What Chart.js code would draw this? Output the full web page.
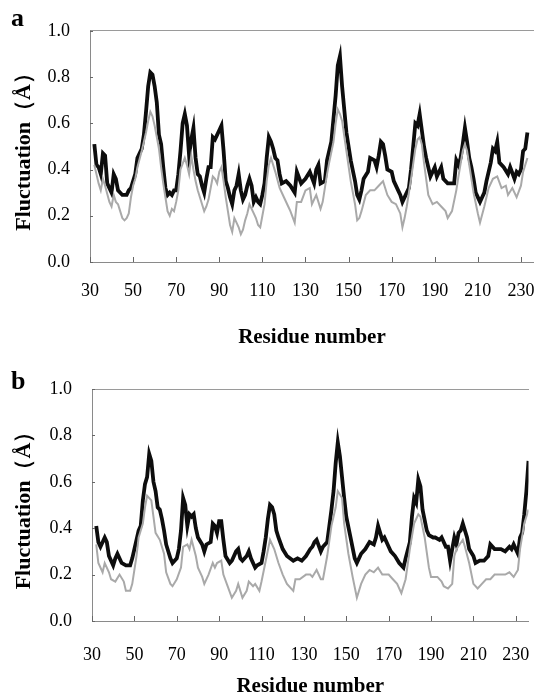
<!DOCTYPE html>
<html>
<head>
<meta charset="utf-8">
<script src="https://cdn.jsdelivr.net/npm/chart.js@4/dist/chart.umd.min.js"></script>
<style>
  body { margin: 0; background: #fff; }
  .panel { position: relative; width: 553px; }
  .panel canvas { display: block; }
  .letter { position: absolute; left: 11px; font: bold 26px "Liberation Serif", "Times New Roman", serif; color: #000; }
</style>
</head>
<body>
<div class="panel">
  <canvas id="chartA" width="553" height="350"></canvas>
  <div class="letter" style="top:3px">a</div>
</div>
<div class="panel">
  <canvas id="chartB" width="553" height="349"></canvas>
  <div class="letter" style="top:16px">b</div>
</div>
<script>
const xTicks = [30, 50, 70, 90, 110, 130, 150, 170, 190, 210, 230];

// panel a, dark line
const resABlack = [32,33,34,35,36,37,38,40,41,42,43,45,47,48,49,51,52,54,55,56,57,58,59,60,61,62,63,64,65,66,67,68,69,70,71,72,73,74,75,76,77,78,79,80,81,82,83,84,85,86,87,88,89,90,91,92,93,94,95,96,97,98,99,100,101,102,103,104,105,106,107,108,109,110,111,112,113,114,115,116,117,118,119,121,122,123,125,126,128,130,132,134,135,136,137,139,140,142,143,144,145,146,147,148,149,151,153,154,155,156,157,159,160,162,163,164,165,166,167,168,170,171,173,174,175,177,178,179,180,181,182,183,184,185,186,187,188,190,191,193,194,196,198,199,200,201,202,203,204,205,206,207,208,209,211,212,213,214,216,217,218,219,220,222,224,225,227,228,229,230,231,232,233];
const flucABlack = [0.51,0.42,0.41,0.38,0.47,0.46,0.34,0.30,0.38,0.36,0.31,0.29,0.29,0.31,0.32,0.38,0.45,0.49,0.55,0.65,0.76,0.82,0.81,0.76,0.69,0.55,0.51,0.41,0.32,0.29,0.30,0.29,0.31,0.31,0.38,0.48,0.60,0.64,0.59,0.46,0.53,0.58,0.45,0.38,0.37,0.33,0.30,0.36,0.41,0.41,0.54,0.53,0.55,0.57,0.59,0.48,0.35,0.32,0.28,0.25,0.31,0.33,0.38,0.31,0.27,0.29,0.33,0.36,0.33,0.26,0.28,0.26,0.25,0.29,0.34,0.45,0.54,0.52,0.49,0.45,0.44,0.38,0.34,0.35,0.34,0.33,0.30,0.39,0.34,0.36,0.39,0.34,0.40,0.42,0.34,0.35,0.44,0.52,0.62,0.72,0.85,0.89,0.76,0.66,0.56,0.44,0.35,0.29,0.27,0.31,0.36,0.39,0.45,0.44,0.41,0.46,0.52,0.51,0.46,0.40,0.39,0.35,0.31,0.29,0.26,0.30,0.32,0.40,0.50,0.60,0.59,0.64,0.57,0.50,0.45,0.41,0.37,0.41,0.37,0.41,0.36,0.34,0.34,0.34,0.44,0.42,0.45,0.51,0.58,0.52,0.45,0.41,0.36,0.30,0.26,0.28,0.30,0.35,0.43,0.49,0.48,0.52,0.43,0.41,0.38,0.41,0.36,0.39,0.38,0.40,0.48,0.49,0.56];

// panel a, grey line
const resAGrey = [32,34,35,36,37,39,40,41,42,43,44,45,46,47,48,49,50,51,52,54,56,57,58,59,60,61,62,63,64,65,66,67,68,69,70,71,72,74,75,76,77,78,79,80,81,82,83,84,85,86,87,88,89,90,91,92,93,94,95,96,97,98,99,100,101,102,103,104,105,106,107,108,109,110,111,112,113,114,116,118,120,122,123,125,126,128,130,132,133,135,137,138,140,141,143,144,145,146,147,149,151,153,154,155,156,158,160,162,164,166,168,170,172,174,175,176,177,179,181,182,183,184,185,186,187,189,191,193,195,196,198,200,201,203,204,205,206,208,210,211,213,215,217,219,221,223,224,226,228,230,231,233];
const flucAGrey = [0.42,0.34,0.31,0.36,0.33,0.26,0.24,0.29,0.26,0.25,0.22,0.19,0.18,0.19,0.21,0.28,0.33,0.36,0.41,0.48,0.56,0.61,0.65,0.63,0.59,0.54,0.49,0.41,0.34,0.28,0.22,0.20,0.23,0.22,0.26,0.31,0.40,0.45,0.42,0.38,0.46,0.40,0.35,0.31,0.28,0.25,0.22,0.24,0.27,0.32,0.37,0.36,0.34,0.39,0.41,0.35,0.28,0.22,0.16,0.13,0.19,0.17,0.15,0.12,0.14,0.18,0.21,0.25,0.23,0.21,0.19,0.16,0.15,0.20,0.25,0.35,0.42,0.45,0.39,0.32,0.28,0.24,0.22,0.17,0.26,0.26,0.31,0.32,0.25,0.29,0.23,0.26,0.38,0.43,0.52,0.60,0.66,0.64,0.61,0.48,0.35,0.25,0.18,0.19,0.22,0.29,0.31,0.31,0.33,0.35,0.29,0.26,0.25,0.21,0.15,0.19,0.24,0.36,0.49,0.53,0.54,0.51,0.43,0.36,0.29,0.25,0.26,0.24,0.22,0.19,0.22,0.31,0.37,0.48,0.51,0.48,0.42,0.30,0.21,0.17,0.24,0.32,0.36,0.37,0.32,0.33,0.29,0.32,0.28,0.33,0.39,0.45];

// panel b, dark line
const resBBlack = [32,33,34,36,37,38,40,41,42,44,46,48,49,50,52,53,54,55,56,57,58,59,60,61,62,63,64,65,67,68,70,71,72,73,74,75,76,77,78,79,80,82,83,84,86,87,88,89,90,91,92,93,95,96,98,99,100,101,103,104,105,107,108,110,111,112,113,114,115,116,117,118,120,122,125,127,129,131,133,134,135,136,138,139,141,142,143,144,145,146,147,148,149,150,152,154,155,157,159,161,163,164,165,167,168,170,171,173,175,177,178,180,181,182,183,184,185,186,188,189,191,192,194,195,197,198,199,201,202,203,204,205,207,208,210,211,213,215,217,218,220,222,223,225,227,228,229,231,232,233,234,235,236];
const flucBBlack = [0.41,0.34,0.32,0.36,0.34,0.28,0.24,0.27,0.29,0.25,0.24,0.24,0.27,0.31,0.39,0.41,0.52,0.59,0.62,0.72,0.69,0.60,0.56,0.49,0.48,0.44,0.39,0.33,0.27,0.25,0.27,0.31,0.39,0.53,0.50,0.41,0.46,0.45,0.46,0.40,0.36,0.33,0.30,0.33,0.34,0.42,0.41,0.38,0.43,0.43,0.35,0.28,0.25,0.26,0.30,0.31,0.27,0.26,0.28,0.30,0.27,0.23,0.24,0.25,0.30,0.36,0.44,0.50,0.49,0.46,0.39,0.36,0.31,0.28,0.26,0.27,0.26,0.28,0.31,0.32,0.34,0.35,0.30,0.32,0.34,0.41,0.48,0.56,0.68,0.77,0.71,0.62,0.53,0.45,0.36,0.27,0.25,0.29,0.31,0.34,0.33,0.36,0.41,0.35,0.36,0.32,0.30,0.28,0.25,0.23,0.27,0.34,0.45,0.53,0.51,0.61,0.58,0.48,0.39,0.37,0.36,0.36,0.35,0.36,0.32,0.32,0.26,0.36,0.33,0.38,0.39,0.42,0.36,0.31,0.28,0.25,0.26,0.26,0.28,0.33,0.31,0.31,0.31,0.30,0.32,0.31,0.33,0.29,0.36,0.38,0.46,0.56,0.69];

// panel b, grey line
const resBGrey = [32,33,35,36,38,39,41,43,45,46,48,49,51,52,54,55,56,58,59,60,62,64,65,67,68,70,72,73,75,76,77,79,80,82,83,85,87,88,89,91,92,94,96,98,99,101,103,104,106,107,109,110,112,114,116,118,120,122,125,126,128,131,133,134,136,138,139,141,143,145,146,148,149,151,153,155,157,159,161,163,165,167,170,172,174,176,178,180,182,184,185,187,189,190,193,195,196,198,200,201,202,205,206,208,210,212,214,216,218,220,223,225,227,229,231,232,234,236];
const flucBGrey = [0.33,0.25,0.21,0.25,0.21,0.18,0.17,0.20,0.17,0.13,0.13,0.16,0.28,0.36,0.42,0.49,0.54,0.52,0.45,0.38,0.35,0.29,0.21,0.16,0.15,0.18,0.23,0.32,0.33,0.31,0.35,0.28,0.23,0.19,0.16,0.20,0.25,0.23,0.25,0.26,0.20,0.15,0.10,0.13,0.16,0.10,0.13,0.17,0.15,0.16,0.13,0.17,0.26,0.35,0.31,0.25,0.20,0.16,0.13,0.18,0.18,0.20,0.20,0.19,0.22,0.18,0.18,0.28,0.41,0.49,0.56,0.53,0.42,0.29,0.19,0.10,0.16,0.20,0.22,0.21,0.23,0.20,0.20,0.18,0.16,0.12,0.18,0.31,0.42,0.46,0.45,0.36,0.23,0.19,0.19,0.17,0.15,0.14,0.16,0.28,0.31,0.35,0.32,0.25,0.16,0.14,0.16,0.18,0.18,0.20,0.20,0.20,0.21,0.19,0.22,0.31,0.42,0.48];

const serif = '"Liberation Serif", "Times New Roman", serif';

function toPoints(xs, ys){
    return xs.map((x, i) => ({x: x, y: ys[i]}));
}

// small tick marks pointing into the plot
const innerTicks = {
    id: "innerTicks",
    afterDraw(chart){
        const ctx = chart.ctx;
        const area = chart.chartArea;
        ctx.save();
        ctx.strokeStyle = "#666";
        ctx.lineWidth = 1;
        chart.scales.x.ticks.forEach(t => {
            const px = Math.round(chart.scales.x.getPixelForValue(t.value)) + 0.5;
            ctx.beginPath();
            ctx.moveTo(px, area.bottom);
            ctx.lineTo(px, area.bottom - 5);
            ctx.stroke();
        });
        chart.scales.y.ticks.forEach(t => {
            const py = Math.round(chart.scales.y.getPixelForValue(t.value)) + 0.5;
            ctx.beginPath();
            ctx.moveTo(area.left, py);
            ctx.lineTo(area.left + 3, py);
            ctx.stroke();
        });
        ctx.restore();
    }
};

function makePanel(id, black, grey, box){
    const ctx = document.getElementById(id);

    new Chart(ctx, {
        type: "line",
        data: {
            datasets: [
                {
                    label: "grey",
                    data: grey,
                    borderColor: "#a9a9a9",
                    borderWidth: 2,
                    pointRadius: 0,
                    tension: 0
                },
                {
                    label: "black",
                    data: black,
                    borderColor: "#0d0d0d",
                    borderWidth: 3.8,
                    pointRadius: 0,
                    tension: 0
                }
            ]
        },
        options: {
            responsive: false,
            animation: false,
            events: [],
            layout: { padding: { top: box.top, left: 0, right: 0, bottom: 0 } },
            plugins: {
                legend: { display: false },
                tooltip: { enabled: false }
            },
            scales: {
                x: {
                    type: "linear",
                    position: "bottom",
                    min: 30,
                    max: 236,
                    afterBuildTicks: scale => { scale.ticks = xTicks.map(v => ({value: v})); },
                    afterFit: scale => { scale.height = box.xHeight; },
                    ticks: {
                        color: "#000",
                        padding: box.xPad,
                        maxRotation: 0,
                        autoSkip: false,
                        font: { family: serif, size: 18 }
                    },
                    grid: { display: false, drawTicks: false },
                    border: { display: true, color: "#8a8a8a", width: 1, dash: [2, 1] },
                    title: {
                        display: true,
                        text: "Residue number",
                        color: "#000",
                        padding: { top: 0, bottom: box.titlePad },
                        font: { family: serif, size: 21, weight: "bold" }
                    }
                },
                xTop: {
                    type: "linear",
                    position: "top",
                    min: 30,
                    max: 236,
                    afterFit: scale => { scale.height = 0; },
                    ticks: { display: false },
                    grid: { display: false, drawTicks: false },
                    border: { display: true, color: "#9a9a9a", width: 1, dash: [2, 1] }
                },
                y: {
                    min: 0,
                    max: 1,
                    afterFit: scale => { scale.width = box.left; },
                    ticks: {
                        stepSize: 0.2,
                        color: "#000",
                        padding: 20,
                        font: { family: serif, size: 18 },
                        callback: v => v.toFixed(1)
                    },
                    grid: { display: false, drawTicks: false },
                    border: { display: true, color: "#8a8a8a", width: 1 },
                    title: {
                        display: true,
                        text: "Fluctuation（Å）",
                        color: "#000",
                        padding: { top: 11, bottom: 0 },
                        font: { family: serif, size: 22, weight: "bold" }
                    }
                }
            }
        },
        plugins: [innerTicks]
    });
}

document.addEventListener("DOMContentLoaded", () => {
    makePanel("chartA", toPoints(resABlack, flucABlack), toPoints(resAGrey, flucAGrey),
        { top: 28, left: 90, xHeight: 88, xPad: 18, titlePad: 0 });
    makePanel("chartB", toPoints(resBBlack, flucBBlack), toPoints(resBGrey, flucBGrey),
        { top: 39, left: 92, xHeight: 78, xPad: 23, titlePad: 0 });
});
</script>
</body>
</html>
